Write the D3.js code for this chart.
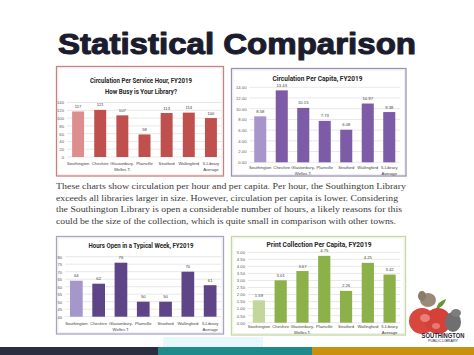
<!DOCTYPE html>
<html>
<head>
<meta charset="utf-8">
<script src="https://cdn.jsdelivr.net/npm/d3@7"></script>
<style>
  html,body{margin:0;padding:0;background:#fff;}
  svg{display:block;}
</style>
</head>
<body>
<svg id="slide" width="474" height="355"></svg>
<script>
// ---------------- DATA ----------------
const categories = ["Southington","Cheshire","Glastonbury-\nWelles T.","Plainville","Stratford","Wallingford","5-Library\nAverage"];
const circPerHour = [117,121,107,58,113,114,100];
const circPerCapita = [8.58,13.43,10.15,7.73,6.08,10.97,9.38];
const hoursOpen = [64,62,76,50,50,70,61];
const printPerCapita = [1.59,3.01,3.67,4.75,2.26,4.25,3.42];
const circHourTicks = [0,20,40,60,80,100,120,140];
const circCapitaTicks = [0,2,4,6,8,10,12,14];
const hoursTicks = [40,45,50,55,60,65,70,75,80];
const printTicks = [0,0.5,1,1.5,2,2.5,3,3.5,4,4.5,5];
const slideTitle = "Statistical Comparison";
const paragraph = [
  "These charts show circulation per hour and per capita. Per hour, the Southington Library",
  "exceeds all libraries larger in size. However, circulation per capita is lower.  Considering",
  "the Southington Library is open a considerable number of hours, a likely reasons for this",
  "could be the size of the collection, which is quite small in comparison with other towns."
];

// ---------------- DRAW ----------------
const svg = d3.select("#slide");
svg.append("rect").attr("width",474).attr("height",355).attr("fill","#fff");

svg.append("text")
  .attr("x",237).attr("y",53.5)
  .attr("text-anchor","middle")
  .attr("font-family","'Liberation Sans', Arial, sans-serif")
  .attr("font-weight","bold")
  .attr("font-size",30)
  .attr("textLength",358).attr("lengthAdjust","spacingAndGlyphs")
  .attr("fill","#1b1c2e").attr("stroke","#1b1c2e").attr("stroke-width",1.1)
  .attr("stroke-linejoin","round")
  .text(slideTitle);

const titleFont = "'Liberation Sans Narrow', 'Roboto', sans-serif";
const smallFont = "'Liberation Sans', 'Roboto', sans-serif";

function drawChart(cfg){
  const g = svg.append("g");
  g.append("rect")
    .attr("x",cfg.box[0]).attr("y",cfg.box[1]).attr("width",cfg.box[2]).attr("height",cfg.box[3])
    .attr("fill","#fff").attr("stroke",cfg.border).attr("stroke-width",1.3);
  g.append("rect")
    .attr("x",cfg.box[0]+1.5).attr("y",cfg.box[1]+1.5).attr("width",cfg.box[2]-3).attr("height",cfg.box[3]-3)
    .attr("fill","none").attr("stroke","#e4e4e4").attr("stroke-width",0.6);

  cfg.titles.forEach(t=>{
    g.append("text").attr("x",t.x).attr("y",t.y).attr("text-anchor","middle")
      .attr("font-family",titleFont).attr("font-weight","bold").attr("font-size",7.8)
      .attr("textLength",t.w).attr("lengthAdjust","spacingAndGlyphs")
      .attr("fill","#262626").text(t.text);
  });

  const x = d3.scaleBand().domain(categories).range([cfg.plot.x0,cfg.plot.x1]).paddingInner(cfg.pad).paddingOuter(cfg.pad/2);
  const y = d3.scaleLinear().domain(cfg.domain).range([cfg.plot.yBase,cfg.plot.yTop]);

  g.append("g").selectAll("line").data(cfg.ticks).join("line")
    .attr("x1",cfg.plot.x0).attr("x2",cfg.plot.x1)
    .attr("y1",d=>y(d)).attr("y2",d=>y(d))
    .attr("stroke","#d9d9d9").attr("stroke-width",0.6);

  const yAxis = d3.axisLeft(y).tickValues(cfg.ticks).tickFormat(cfg.tickFmt).tickSize(0).tickPadding(3);
  const ya = g.append("g").attr("transform",`translate(${cfg.plot.x0},0)`).call(yAxis);
  ya.select(".domain").remove();
  ya.selectAll("text").attr("font-family",smallFont).attr("font-size",4.2).attr("fill","#595959");

  g.append("g").selectAll("rect").data(cfg.values).join("rect")
    .attr("x",(d,i)=>x(categories[i]))
    .attr("width",x.bandwidth())
    .attr("y",d=>y(d))
    .attr("height",d=>y(cfg.domain[0])-y(d))
    .attr("fill",(d,i)=> i===0 ? cfg.light : cfg.dark);

  g.append("g").selectAll("text").data(cfg.values).join("text")
    .attr("x",(d,i)=>x(categories[i])+x.bandwidth()/2)
    .attr("y",d=>y(d)-3.5)
    .attr("text-anchor","middle")
    .attr("font-family",smallFont).attr("font-size",4.2).attr("fill","#404040")
    .text(d=>cfg.valFmt(d));

  const cl = g.append("g").selectAll("text").data(categories).join("text")
    .attr("x",d=>x(d)+x.bandwidth()/2)
    .attr("y",cfg.catY)
    .attr("text-anchor","middle")
    .attr("font-family",smallFont).attr("font-size",4.2).attr("fill","#404040");
  cl.each(function(d){
    const lines = d.split("\n");
    const t = d3.select(this);
    lines.forEach((ln,k)=>{
      t.append("tspan").attr("x",+t.attr("x")).attr("dy",k===0?0:6.2).text(ln);
    });
  });
}

drawChart({
  box:[56.5,66.5,167,109.5], border:"#c4817f",
  titles:[{text:"Circulation Per Service Hour,  FY2019",x:141,y:82.5,w:102},
          {text:"How Busy is Your Library?",x:141,y:93.5,w:72}],
  plot:{x0:67,x1:222,yTop:102.5,yBase:157},
  pad:0.46, domain:[0,140], ticks:circHourTicks,
  tickFmt:d3.format("d"), valFmt:d3.format("d"),
  values:circPerHour, light:"#dc8f8e", dark:"#c0504d", catY:164.8
});

drawChart({
  box:[231.5,68.5,174.5,107.5], border:"#9c8fb6",
  titles:[{text:"Circulation Per Capita, FY2019",x:317.5,y:81,w:90}],
  plot:{x0:249.5,x1:400,yTop:87.3,yBase:162.3},
  pad:0.44, domain:[0,14], ticks:circCapitaTicks,
  tickFmt:d3.format(".2f"), valFmt:d3.format(".2f"),
  values:circPerCapita, light:"#a895c9", dark:"#7d5ba6", catY:169
});

drawChart({
  box:[56.5,236.5,167,97.5], border:"#a7a4bf",
  titles:[{text:"Hours Open in a Typical Week, FY2019",x:141,y:247.5,w:105}],
  plot:{x0:65.2,x1:221.3,yTop:256.7,yBase:316.7},
  pad:0.43, domain:[40,80], ticks:hoursTicks,
  tickFmt:d3.format("d"), valFmt:d3.format("d"),
  values:hoursOpen, light:"#a597c9", dark:"#5e4588", catY:324.8
});

drawChart({
  box:[231.5,236.5,174,98.5], border:"#c5d89e",
  titles:[{text:"Print Collection Per Capita, FY2019",x:319,y:247,w:105}],
  plot:{x0:248,x1:400.5,yTop:252.3,yBase:322.7},
  pad:0.44, domain:[0,5], ticks:printTicks,
  tickFmt:d3.format(".2f"), valFmt:d3.format(".2f"),
  values:printPerCapita, light:"#c3d79c", dark:"#8cb04a", catY:327.5
});

const para = svg.append("g");
const paraW = [350,342,346,340];
paragraph.forEach((ln,i)=>{
  para.append("text").attr("x",56).attr("y",189 + i*11.6)
    .attr("font-family","'Liberation Serif', 'DejaVu Serif', serif")
    .attr("font-size",9.2).attr("fill","#3a3a3a")
    .attr("textLength",paraW[i]).attr("lengthAdjust","spacingAndGlyphs")
    .text(ln);
});

svg.append("rect").attr("x",163).attr("y",337).attr("width",100).attr("height",10).attr("fill","#e6f8fc");

svg.append("rect").attr("x",0).attr("y",347).attr("width",158).attr("height",8).attr("fill","#2b2d40");
svg.append("rect").attr("x",158).attr("y",347).attr("width",154).attr("height",8).attr("fill","#1e8a8c");
svg.append("rect").attr("x",312).attr("y",347).attr("width",162).attr("height",8).attr("fill","#c8900d");

const logo = svg.append("g");
logo.append("ellipse").attr("cx",428).attr("cy",300).attr("rx",8).attr("ry",7).attr("fill","#9a8a78");
logo.append("ellipse").attr("cx",422).attr("cy",296).attr("rx",4).attr("ry",5).attr("fill","#8a7a68");
logo.append("path").attr("d","M436,309 q2,-8 10,-10 q-2,8 -10,10z").attr("fill","#5e9a38");
logo.append("ellipse").attr("cx",422).attr("cy",321).attr("rx",13).attr("ry",13).attr("fill","#d8463e");
logo.append("ellipse").attr("cx",438).attr("cy",321).attr("rx",13).attr("ry",13).attr("fill","#d34138");
logo.append("ellipse").attr("cx",425).attr("cy",318).attr("rx",5).attr("ry",4).attr("fill","#e8807a");
logo.append("ellipse").attr("cx",436).attr("cy",326).attr("rx",4).attr("ry",3).attr("fill","#e57a72");
logo.append("ellipse").attr("cx",453).attr("cy",322).attr("rx",8).attr("ry",10).attr("fill","#6f6f72");
logo.append("ellipse").attr("cx",456).attr("cy",313).attr("rx",5).attr("ry",4).attr("fill","#7d7d80");
logo.append("text").attr("x",443).attr("y",337.5).attr("text-anchor","middle")
  .attr("font-family","'Liberation Sans', sans-serif").attr("font-weight","bold").attr("font-size",6.5)
  .attr("textLength",43).attr("lengthAdjust","spacingAndGlyphs").attr("fill","#23253a").text("SOUTHINGTON");
logo.append("text").attr("x",443).attr("y",341.5).attr("text-anchor","middle")
  .attr("font-family","'Liberation Sans', sans-serif").attr("font-size",3.5)
  .attr("textLength",30).attr("lengthAdjust","spacingAndGlyphs").attr("fill","#23253a").text("PUBLIC LIBRARY");
</script>
</body>
</html>
